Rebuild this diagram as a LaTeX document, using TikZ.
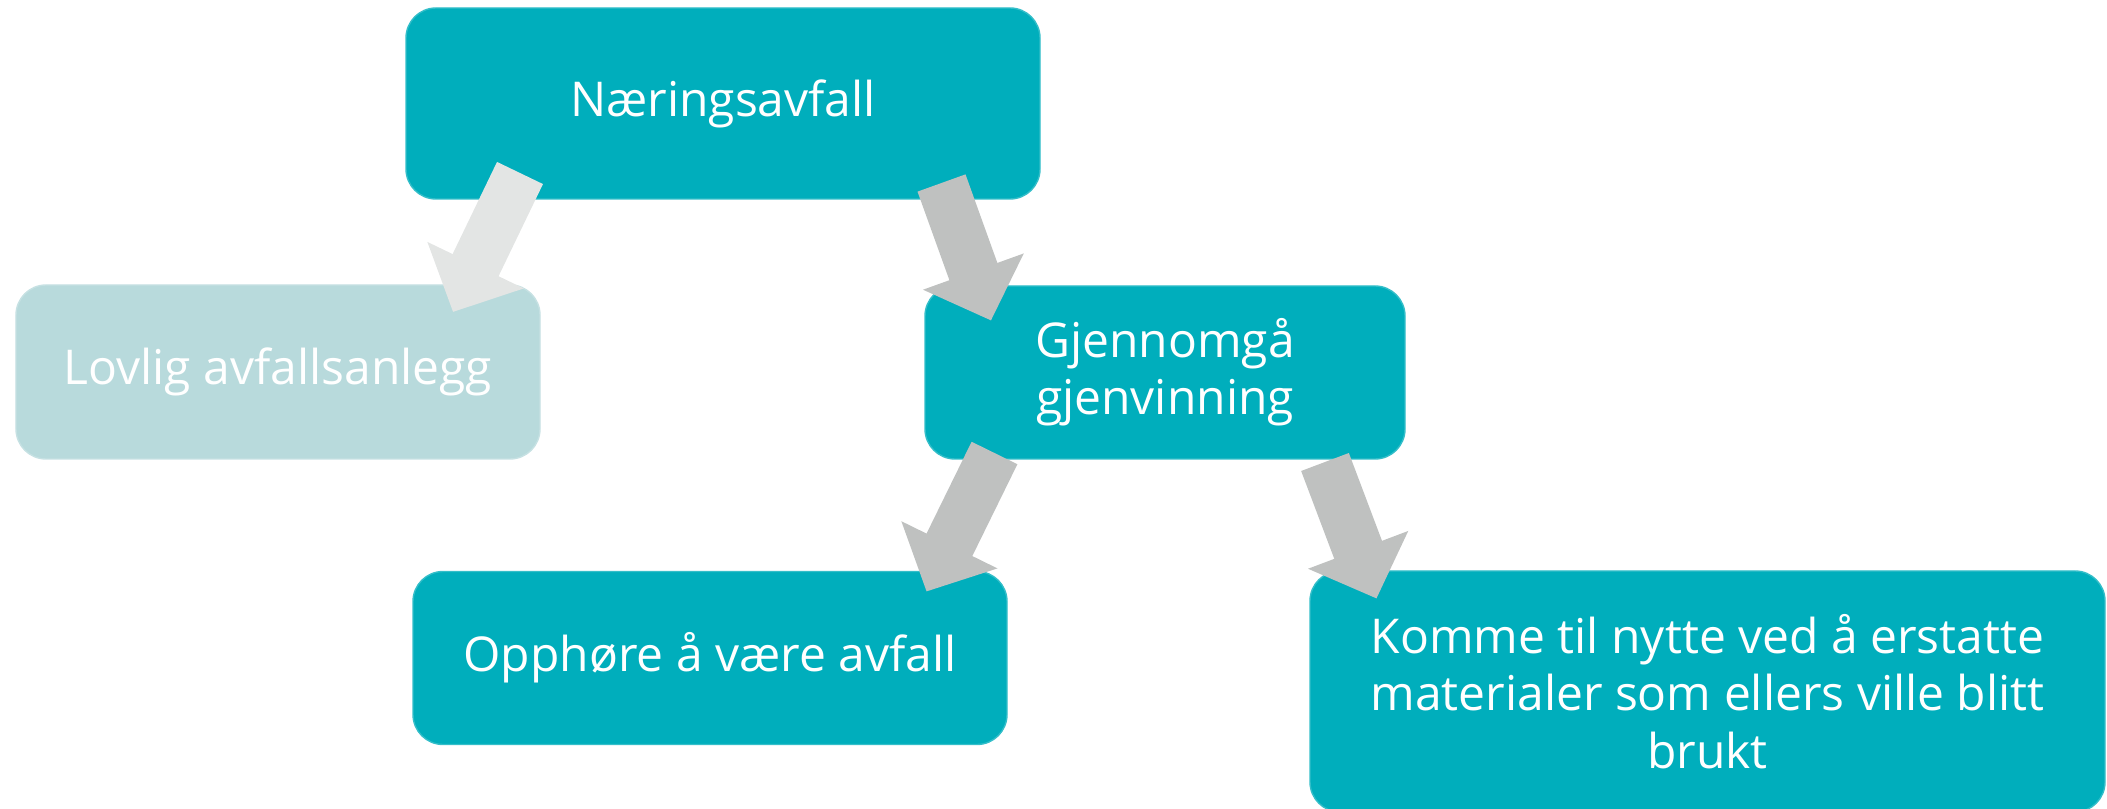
\documentclass[tikz,border=0pt]{standalone}
\usepackage{fontspec}
\setmainfont{Open Sans}
\usetikzlibrary{arrows.meta}
\definecolor{boxteal}{RGB}{0,174,188}
\definecolor{boxpale}{RGB}{184,218,220}
\definecolor{arrowgray}{RGB}{191,193,192}
\definecolor{arrowpale}{RGB}{227,229,228}
\tikzset{
  stepbox/.style={rectangle, rounded corners=0.3cm, fill=boxteal, draw=boxteal!80!white,
    line width=0.4pt, text=white, align=center, inner sep=0pt,
    font=\fontsize{13.65}{16.3}\selectfont},
  bigarrow/.style={line width=0.51cm, draw=arrowgray,
    -{Triangle[length=0.52cm, width=1.04cm]}},
}
\begin{document}
\begin{tikzpicture}
  \useasboundingbox (0,0) rectangle (21.07,-8.09);
  \node[stepbox, minimum width=6.34cm, minimum height=1.91cm] (naering) at (7.23,-1.035) {Næringsavfall};
  \node[stepbox, fill=boxpale, draw=boxpale!80!white, minimum width=5.24cm, minimum height=1.74cm] (lovlig) at (2.78,-3.72) {Lovlig avfallsanlegg};
  \node[stepbox, minimum width=4.80cm, minimum height=1.73cm] (gjennom) at (11.65,-3.725) {Gjennomgå\\gjenvinning};
  \node[stepbox, minimum width=5.94cm, minimum height=1.73cm] (opphore) at (7.10,-6.58) {Opphøre å være avfall};
  \node[stepbox, minimum width=7.95cm, minimum height=2.41cm] (komme) at (17.075,-6.915) {Komme til nytte ved å erstatte\\materialer som ellers ville blitt\\brukt};
  % arrow ends
  \coordinate (a1s) at (5.20,-1.73);
  \coordinate (a1e) at (4.53,-3.12);
  \coordinate (a2s) at (9.415,-1.83);
  \coordinate (a2e) at (9.91,-3.205);
  \coordinate (a3s) at (9.945,-4.53);
  \coordinate (a3e) at (9.265,-5.915);
  \coordinate (a4s) at (13.25,-4.62);
  \coordinate (a4e) at (13.765,-5.985);
  \begin{scope}[bigarrow]
    \draw[draw=arrowpale] (a1s) -- (a1e);
    \draw (a2s) -- (a2e);
    \draw (a3s) -- (a3e);
    \draw (a4s) -- (a4e);
  \end{scope}
\end{tikzpicture}
\end{document}
